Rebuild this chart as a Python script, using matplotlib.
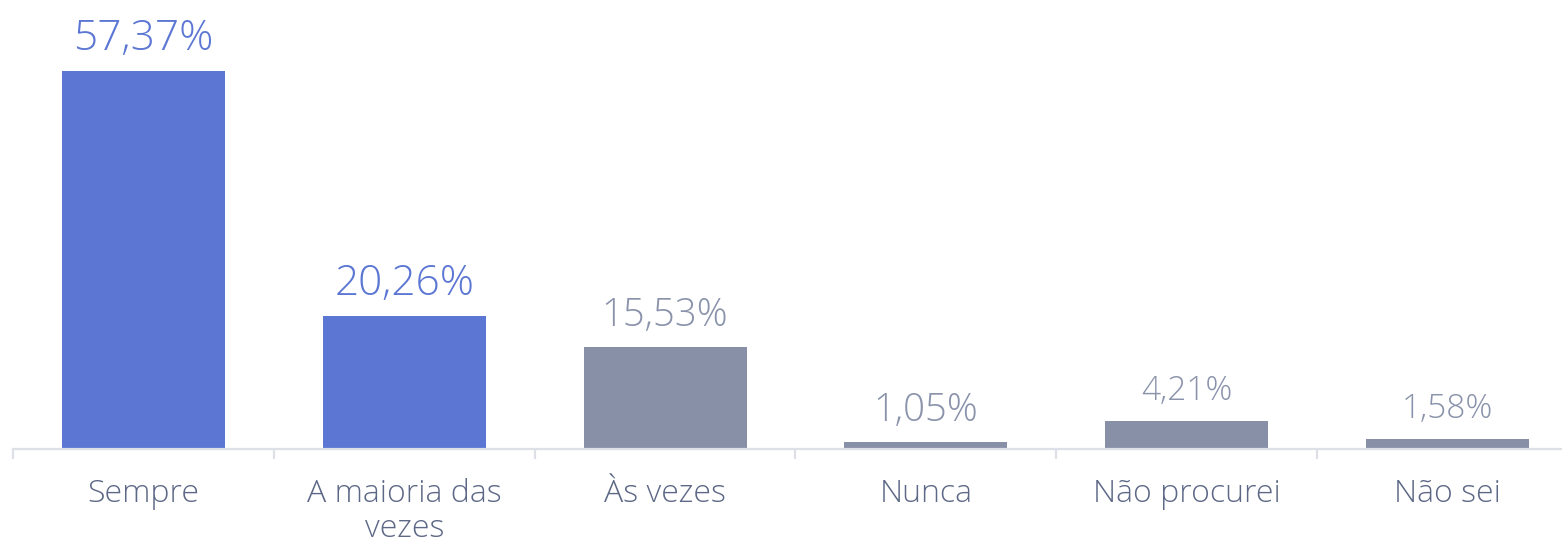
import matplotlib
matplotlib.use("Agg")
import matplotlib.pyplot as plt
from matplotlib.ticker import FixedLocator

categories = ["Sempre", "A maioria das\nvezes", "Às vezes", "Nunca", "Não procurei", "Não sei"]
values = [57.37, 20.26, 15.53, 1.05, 4.21, 1.58]
value_labels = ["57,37%", "20,26%", "15,53%", "1,05%", "4,21%", "1,58%"]
highlight = [True, True, False, False, False, False]
label_sizes = [30.5, 30.5, 27.5, 27.5, 24, 24]

BLUE = "#5b76d3"
GRAY_BAR = "#8890a7"
GRAY_TXT = "#8a93ab"
TICK_TXT = "#5d6886"
AXIS = "#dde0e6"

plt.rcParams['font.family'] = ['Open Sans', 'DejaVu Sans']

fig = plt.figure(figsize=(15.62, 5.46), dpi=100)
ax = fig.add_axes([13/1562, 97/546, 1565/1562, 449/546])

x = list(range(len(categories)))
colors = [BLUE if h else GRAY_BAR for h in highlight]
bars = ax.bar(x, values, width=0.625, color=colors, zorder=2)

for xi, v, lab, h, fs in zip(x, values, value_labels, highlight, label_sizes):
    ax.annotate(lab, (xi, v), xytext=(0, 15), textcoords="offset points",
                ha="center", va="baseline", fontsize=fs, fontweight="light",
                color=BLUE if h else GRAY_TXT)

ax.set_xlim(-0.5, len(categories) - 0.5)
ax.set_ylim(0, 449 / (378 / 57.37))

for s in ["top", "right", "left"]:
    ax.spines[s].set_visible(False)
ax.spines["bottom"].set_color(AXIS)
ax.spines["bottom"].set_linewidth(1.6)
ax.set_yticks([])

ax.set_xticks(x)
ax.set_xticklabels(categories, fontsize=23, color=TICK_TXT, linespacing=1.12, fontweight="light")
ax.tick_params(axis="x", which="major", length=0, pad=21)
ax.xaxis.set_minor_locator(FixedLocator([i - 0.5 for i in range(len(categories) + 1)]))
ax.tick_params(axis="x", which="minor", length=7.5, width=1.6, color=AXIS)

fig.savefig("out.png", dpi=100)
